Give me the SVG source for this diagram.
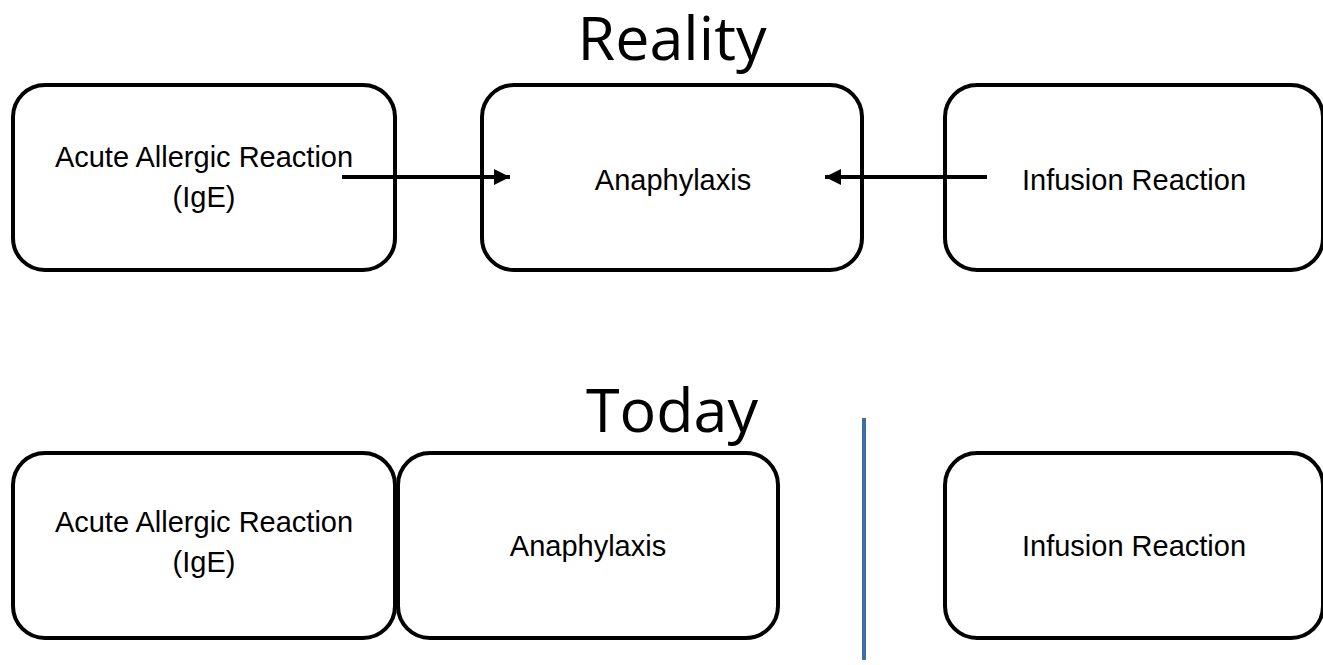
<svg xmlns="http://www.w3.org/2000/svg" width="1323" height="665" viewBox="0 0 1323 665">
<style>
.box{fill:#fff;stroke:#000;stroke-width:4}
.lbl{font-family:"Liberation Sans",Arial,sans-serif;font-size:29px;fill:#000;text-anchor:middle}
.title{font-family:"Open Sans","Noto Sans",sans-serif;font-size:61px;fill:#000;text-anchor:middle}
.conn{stroke:#000;stroke-width:4;fill:none}
</style>
<defs>
<marker id="ah" viewBox="0 0 10 10" refX="10" refY="5" markerWidth="4" markerHeight="4" markerUnits="strokeWidth" orient="auto">
<path d="M0,0 L10,5 L0,10 Z" fill="#000"/>
</marker>
</defs>
<rect width="1323" height="665" fill="#fff"/>
<text class="title" x="672" y="60">Reality</text>
<text class="title" x="672" y="432">Today</text>
<g id="r-acute"><rect class="box" x="13" y="85" width="382" height="185" rx="32"/><text class="lbl" x="204" y="167">Acute Allergic Reaction</text><text class="lbl" x="204" y="207">(IgE)</text></g>
<g id="r-anaph"><rect class="box" x="482" y="85" width="380" height="185" rx="32"/><text class="lbl" x="673" y="190">Anaphylaxis</text></g>
<g id="r-infusion"><rect class="box" x="945" y="85" width="378" height="185" rx="32"/><text class="lbl" x="1134" y="190">Infusion Reaction</text></g>
<g id="t-acute"><rect class="box" x="13" y="453" width="382" height="185" rx="32"/><text class="lbl" x="204" y="532">Acute Allergic Reaction</text><text class="lbl" x="204" y="572">(IgE)</text></g>
<g id="t-anaph"><rect class="box" x="398" y="453" width="380" height="185" rx="32"/><text class="lbl" x="588" y="556">Anaphylaxis</text></g>
<g id="t-infusion"><rect class="box" x="945" y="453" width="378" height="185" rx="32"/><text class="lbl" x="1134" y="556">Infusion Reaction</text></g>
<g id="connectors">
<line class="conn" x1="342" y1="177" x2="510" y2="177" marker-end="url(#ah)"/>
<line class="conn" x1="987" y1="177" x2="825" y2="177" marker-end="url(#ah)"/>
<line x1="864" y1="418" x2="864" y2="660" stroke="#3b6fa5" stroke-width="4"/>
</g>
</svg>
